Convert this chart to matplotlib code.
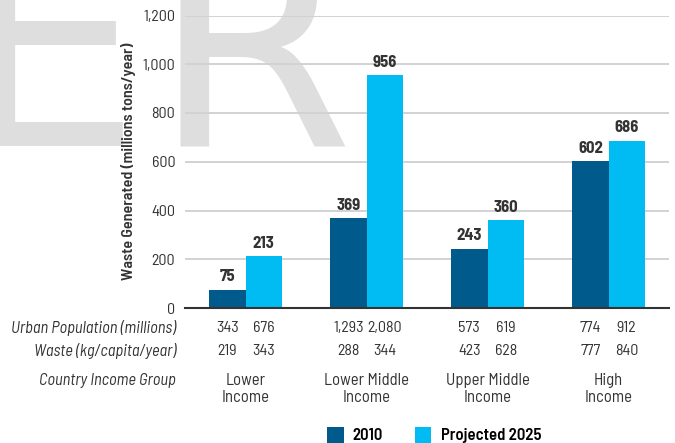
import matplotlib
matplotlib.use("Agg")
import matplotlib.pyplot as plt
import matplotlib.transforms as mtransforms
from matplotlib import font_manager
import numpy as np

# data
groups = ["Lower\nIncome", "Lower Middle\nIncome", "Upper Middle\nIncome", "High\nIncome"]
waste_2010 = [75, 369, 243, 602]
waste_2025 = [213, 956, 360, 686]
urban_pop_2010 = ["343", "1,293", "573", "774"]
urban_pop_2025 = ["676", "2,080", "619", "912"]
per_cap_2010 = ["219", "288", "423", "777"]
per_cap_2025 = ["343", "344", "628", "840"]
yticks = [0, 200, 400, 600, 800, 1000, 1200]

dark = "#005a8c"
light = "#00bcf2"
txt = "#333333"

# a narrow face looks closer to the original, use it if there is one
installed = {f.name for f in font_manager.fontManager.ttflist}
narrow = "DejaVu Sans"
for cand in ["Barlow Semi Condensed", "Asap Condensed", "Liberation Sans Narrow"]:
    if cand in installed:
        narrow = cand
        break
plt.rcParams["font.family"] = [narrow, "DejaVu Sans"]

fig = plt.figure(figsize=(6.75, 4.43), dpi=100)
ax = fig.add_axes([185 / 675, 1 - 308 / 443, 484 / 675, (308 - 15.5) / 443])
ax.set_facecolor("none")
ax.set_zorder(1)

# watermark letters in the background
base = 1 - 146 / 443
fig.text(-42 / 675, base, "E", fontsize=209, color="#dedede",
         family="DejaVu Sans", va="baseline", ha="left", zorder=0)
fig.text(151 / 675, base, "R", fontsize=209, color="#dedede",
         family="DejaVu Sans", va="baseline", ha="left", zorder=0)

x = np.arange(len(groups))
w = 0.3
b1 = ax.bar(x - w / 2, waste_2010, w, color=dark, label="2010", zorder=3)
b2 = ax.bar(x + w / 2, waste_2025, w, color=light, label="Projected 2025", zorder=3)

for bars, vals in ((b1, waste_2010), (b2, waste_2025)):
    for r, v in zip(bars, vals):
        ax.text(r.get_x() + r.get_width() / 2, v + 22, str(v), ha="center", va="bottom",
                fontsize=12, fontweight="bold", color=txt)

ax.set_xlim(-0.5, 3.5)
ax.set_ylim(0, 1200)
ax.set_yticks(yticks)
ax.set_yticklabels([f"{t:,}" for t in yticks], fontsize=11.5, color=txt)
ax.set_xticks([])
ax.tick_params(axis="y", length=0, pad=7)
ax.grid(axis="y", color="#d2d2d2", lw=1.4, zorder=0)
for s in ("left", "right", "top"):
    ax.spines[s].set_visible(False)
ax.spines["bottom"].set_color("#333333")
ax.spines["bottom"].set_linewidth(1.5)
ax.spines["bottom"].set_zorder(4)

ax.set_ylabel("Waste Generated (millions tons/year)", fontsize=11.5, fontweight="semibold",
              color=txt, labelpad=5)

# table rows under the axis
tr = mtransforms.blended_transform_factory(ax.transData, fig.transFigure)
rows = [(1 - 328 / 443, "Urban Population (millions)", urban_pop_2010, urban_pop_2025),
        (1 - 351 / 443, "Waste (kg/capita/year)", per_cap_2010, per_cap_2025)]
for yy, label, a, b in rows:
    fig.text(176 / 675, yy, label, ha="right", va="center", fontsize=11.8,
             style="italic", color=txt)
    for i in range(len(groups)):
        ax.text(x[i] - w / 2, yy, a[i], transform=tr, ha="center", va="center",
                fontsize=11.5, color=txt)
        ax.text(x[i] + w / 2, yy, b[i], transform=tr, ha="center", va="center",
                fontsize=11.5, color=txt)

fig.text(176 / 675, 1 - 381 / 443, "Country Income Group", ha="right", va="center",
         fontsize=11.8, style="italic", color=txt)
for i, g in enumerate(groups):
    ax.text(x[i], 1 - 373 / 443, g, transform=tr, ha="center", va="top",
            fontsize=12, color=txt, linespacing=1.15)

fig.legend(handles=[b1, b2], loc="center", bbox_to_anchor=(434 / 675, 1 - 435 / 443),
           ncol=2, frameon=False, handlelength=1.0, handleheight=1.1, handletextpad=0.55,
           columnspacing=1.9, prop={"weight": "semibold", "size": 12})

fig.savefig("out.png", dpi=100)
